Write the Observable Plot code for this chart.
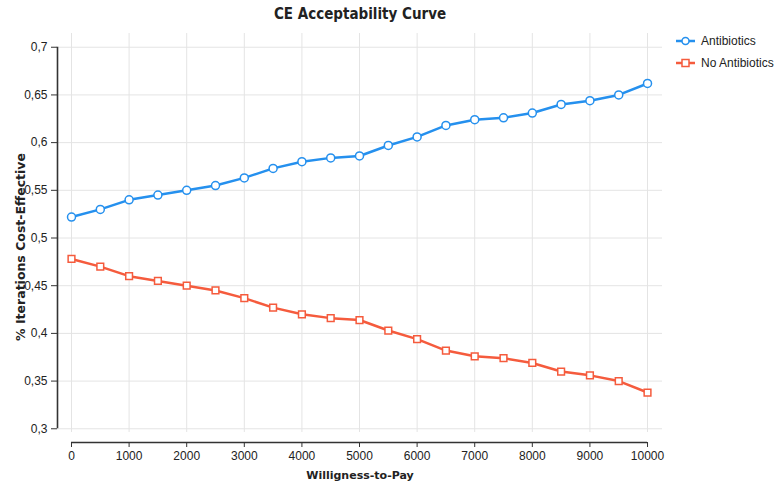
<!DOCTYPE html>
<html><head><meta charset="utf-8">
<script src="https://cdn.jsdelivr.net/npm/d3@7"></script>
<script src="https://cdn.jsdelivr.net/npm/@observablehq/plot@0.6"></script>
<style>
body{margin:0;background:#fff;font-family:"Liberation Sans",Arial,sans-serif;}
#wrap{position:relative;width:777px;height:485px;}
#legend{position:absolute;left:675px;top:30px;font-size:12px;color:#222;}
.row{display:flex;align-items:center;height:22px;}
.row svg{margin-right:5px;}
</style></head><body><div id="wrap"><div id="legend"></div></div>
<script>
const wtp = [0,500,1000,1500,2000,2500,3000,3500,4000,4500,5000,5500,6000,6500,7000,7500,8000,8500,9000,9500,10000];
const antibiotics = [0.522,0.530,0.540,0.545,0.550,0.555,0.563,0.573,0.580,0.584,0.586,0.597,0.606,0.618,0.624,0.626,0.631,0.640,0.644,0.650,0.662];
const noAntibiotics = [0.478,0.470,0.460,0.455,0.450,0.445,0.437,0.427,0.420,0.416,0.414,0.403,0.394,0.382,0.376,0.374,0.369,0.360,0.356,0.350,0.338];
const seriesNames = ["Antibiotics","No Antibiotics"];
const colors = ["#2590ee","#f55b3d"];
const xTicks = [0,1000,2000,3000,4000,5000,6000,7000,8000,9000,10000];
const yTicks = [0.3,0.35,0.4,0.45,0.5,0.55,0.6,0.65,0.7];
const xDomain = [-243, 10260];
const yDomain = [0.2961, 0.7144];

const data = wtp.flatMap((w,i)=>[
  {w, v: antibiotics[i], s: seriesNames[0]},
  {w, v: noAntibiotics[i], s: seriesNames[1]}
]);

const labelFont = '"DejaVu Sans", sans-serif';
const titleFont = '"DejaVu Sans Condensed", "Liberation Sans", sans-serif';

const chart = Plot.plot({
  width: 777, height: 485,
  marginLeft: 57, marginRight: 115, marginTop: 33, marginBottom: 53,
  style: {fontFamily: '"Liberation Sans", Arial, sans-serif', color: "#222", background: "#fff"},
  x: {domain: xDomain},
  y: {domain: yDomain},
  color: {domain: seriesNames, range: colors},
  marks: [
    Plot.gridX(xTicks, {stroke: "#e4e4e4", strokeOpacity: 1}),
    Plot.gridY(yTicks, {stroke: "#e4e4e4", strokeOpacity: 1}),
    Plot.ruleX([xDomain[0]], {y1: yTicks[0], y2: yTicks[yTicks.length-1], stroke: "#333", strokeWidth: 1.6}),
    Plot.axisY(yTicks, {tickSize: 6, tickPadding: 4, fontSize: 12, stroke: "#333", label: null,
      tickFormat: d => String(d).replace(".", ",")}),
    Plot.ruleY([yDomain[0]], {x1: xTicks[0], x2: xTicks[xTicks.length-1], dy: 10, stroke: "#333", strokeWidth: 1.6}),
    Plot.axisX(xTicks, {tickSize: 5, tickPadding: 4, dy: 10, fontSize: 12, stroke: "#333", label: null,
      tickFormat: d => String(d)}),
    Plot.text(["Willigness-to-Pay"], {frameAnchor: "bottom", lineAnchor: "middle", textAnchor: "middle", dy: 43, fontWeight: "bold", fontSize: 11, fontFamily: labelFont}),
    Plot.text(["% Iterations Cost-Effective"], {frameAnchor: "left", lineAnchor: "middle", textAnchor: "middle", dx: -37, dy: 14, rotate: -90, fontWeight: "bold", fontSize: 12.5, fontFamily: labelFont}),
    Plot.text(["CE Acceptability Curve"], {frameAnchor: "top", lineAnchor: "middle", textAnchor: "middle", dy: -19, fontWeight: "bold", fontSize: 15, fontFamily: titleFont}),
    Plot.line(data, {x: "w", y: "v", stroke: "s", strokeWidth: 2.5}),
    Plot.dot(data.filter(d => d.s === seriesNames[0]), {x: "w", y: "v", symbol: "circle", r: 4, fill: "white", stroke: colors[0], strokeWidth: 1.5}),
    Plot.dot(data.filter(d => d.s === seriesNames[1]), {x: "w", y: "v", symbol: "square", r: 3.8, fill: "white", stroke: colors[1], strokeWidth: 1.5})
  ]
});
document.getElementById("wrap").prepend(chart);

const legend = document.getElementById("legend");
seriesNames.forEach((name, i) => {
  const row = document.createElement("div");
  row.className = "row";
  const marker = i === 0
    ? `<circle cx="10.5" cy="6" r="3.5" fill="white" stroke="${colors[i]}" stroke-width="1.5"/>`
    : `<rect x="7" y="2.5" width="7" height="7" fill="white" stroke="${colors[i]}" stroke-width="1.5"/>`;
  row.innerHTML = `<svg width="21" height="12"><line x1="1" x2="20" y1="6" y2="6" stroke="${colors[i]}" stroke-width="2.5"/>${marker}</svg><span>${name}</span>`;
  legend.appendChild(row);
});
chart.style.position = "absolute";
chart.style.left = "0"; chart.style.top = "0";
</script></body></html>
